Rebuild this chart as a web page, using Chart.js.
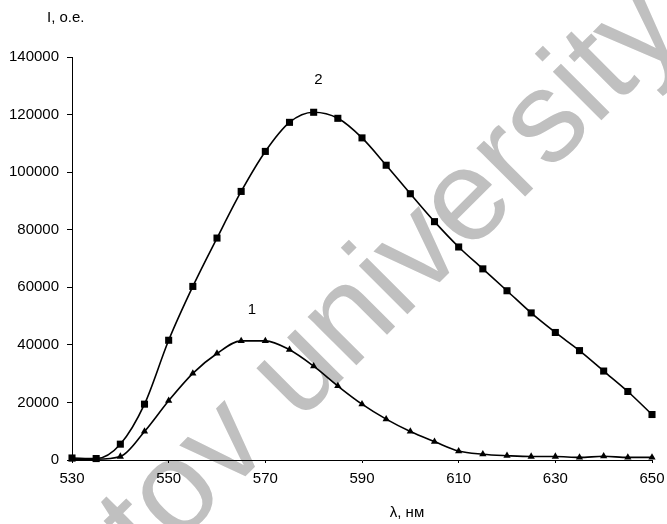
<!DOCTYPE html>
<html>
<head>
<meta charset="utf-8">
<script src="https://cdn.jsdelivr.net/npm/chart.js@4"></script>
<style>
  body { margin: 0; background: #fff; }
</style>
</head>
<body>
<canvas id="chart" width="667" height="524"></canvas>
<script>
// Data
const wavelength = [530, 535, 540, 545, 550, 555, 560, 565, 570, 575, 580, 585, 590,
                    595, 600, 605, 610, 615, 620, 625, 630, 635, 640, 645, 650];
const curve1 = [300, 300, 1200, 9900, 20600, 30100, 37000, 41400, 41400, 38300, 32600, 25700, 19400,
                14200, 9900, 6400, 3100, 2000, 1500, 1200, 1200, 900, 1300, 900, 900];
const curve2 = [700, 500, 5500, 19400, 41600, 60300, 77100, 93300, 107200, 117300, 120800, 118700, 111900,
                102400, 92500, 82800, 74000, 66400, 58800, 51100, 44300, 38000, 30900, 23800, 15800];
const yTicks = [0, 20000, 40000, 60000, 80000, 100000, 120000, 140000];
const xTicks = [530, 550, 570, 590, 610, 630, 650];

const FONT = 'Arial, "Liberation Sans", sans-serif';

const toPoints = (ys) => ys.map((y, i) => ({ x: wavelength[i], y: y }));

// Watermark + white background, under everything
const backdrop = {
    id: 'backdrop',
    beforeDraw(chart) {
        const ctx = chart.ctx;
        const size = 130;
        ctx.save();
        ctx.fillStyle = '#fff';
        ctx.fillRect(0, 0, chart.width, chart.height);
        ctx.font = size + 'px ' + FONT;
        ctx.fillStyle = '#c0c0c0';
        ctx.textBaseline = 'alphabetic';
        const text = 'Saratov university';
        // centre of the "o" in "Saratov" sits at this point
        const offset = ctx.measureText('Sarat').width + ctx.measureText('o').width / 2;
        ctx.translate(178, 496);
        ctx.rotate(-Math.PI / 4);
        ctx.fillText(text, -offset, 0.26 * size);
        ctx.restore();
    }
};

// Curve numbers and axis captions
const captions = {
    id: 'captions',
    afterDraw(chart) {
        const ctx = chart.ctx;
        const xs = chart.scales.x, ys = chart.scales.y;
        ctx.save();
        ctx.fillStyle = '#000';
        ctx.font = '15px ' + FONT;
        ctx.textAlign = 'center';
        ctx.textBaseline = 'middle';
        ctx.fillText('2', xs.getPixelForValue(581), ys.getPixelForValue(132200));
        ctx.fillText('1', xs.getPixelForValue(567.2), ys.getPixelForValue(52200));
        ctx.fillText('λ, нм', 407, 513);
        ctx.textAlign = 'left';
        ctx.fillText('I, o.e.', 47, 18);
        ctx.restore();
    }
};

const common = {
    borderColor: '#000',
    backgroundColor: '#000',
    borderWidth: 1.6,
    cubicInterpolationMode: 'monotone',
    pointBorderWidth: 0,
    clip: false
};

new Chart(document.getElementById('chart'), {
    type: 'line',
    data: {
        datasets: [
            Object.assign({ label: '2', data: toPoints(curve2), pointStyle: 'rect', pointRadius: 5 }, common),
            Object.assign({ label: '1', data: toPoints(curve1), pointStyle: 'triangle', pointRadius: 4.2 }, common)
        ]
    },
    options: {
        responsive: false,
        animation: false,
        layout: { padding: { left: 0, top: 57, right: 15, bottom: 0 } },
        plugins: { legend: { display: false }, tooltip: { enabled: false } },
        scales: {
            x: {
                type: 'linear',
                min: 530,
                max: 650,
                afterFit: (s) => { s.height = 64; s.paddingLeft = 0; s.paddingRight = 0; },
                afterBuildTicks: (s) => { s.ticks = xTicks.map(v => ({ value: v })); },
                grid: { drawOnChartArea: false, color: '#000', tickLength: 3 },
                border: { display: true, color: '#000', width: 1 },
                ticks: { color: '#000', font: { family: FONT, size: 15 }, padding: 7, maxRotation: 0 }
            },
            y: {
                min: 0,
                max: 140000,
                afterFit: (s) => { s.width = 72; s.paddingTop = 0; s.paddingBottom = 0; },
                afterBuildTicks: (s) => { s.ticks = yTicks.map(v => ({ value: v })); },
                grid: { drawOnChartArea: false, color: '#000', tickLength: 5 },
                border: { display: true, color: '#000', width: 1 },
                ticks: { color: '#000', font: { family: FONT, size: 15 }, padding: 8, callback: (v) => String(v) }
            }
        }
    },
    plugins: [backdrop, captions]
});
</script>
</body>
</html>
